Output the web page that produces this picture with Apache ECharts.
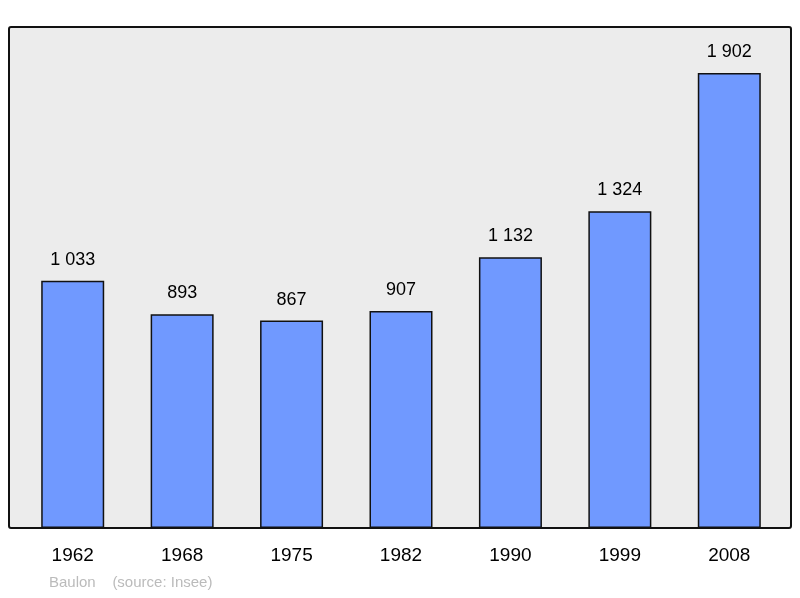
<!DOCTYPE html>
<html>
<head>
<meta charset="utf-8">
<script src="https://cdn.jsdelivr.net/npm/echarts@6/dist/echarts.min.js"></script>
<style>html,body{margin:0;padding:0;background:#fff}#chart{width:800px;height:598px}</style>
</head>
<body>
<div id="chart"></div>
<script>
// données population
const years = ['1962', '1968', '1975', '1982', '1990', '1999', '2008'];
const population = [1033, 893, 867, 907, 1132, 1324, 1902];

const chart = echarts.init(document.getElementById('chart'));

function fmt(v) {
  return String(v).replace(/\B(?=(\d{3})+(?!\d))/g, ' ');
}

chart.setOption({
  animation: false,
  graphic: [
    { type: 'rect', z: -10, shape: { x: 9, y: 27, width: 782, height: 501, r: 2 },
      style: { fill: '#ececec', stroke: '#111', lineWidth: 2 } },
    { type: 'text', left: 49, top: 575,
      style: { text: 'Baulon    (source: Insee)', fill: '#bbbbbb', fontSize: 15, fontFamily: 'Liberation Sans' } }
  ],
  grid: { left: 18, right: 16, top: 27, bottom: 70 },
  xAxis: {
    type: 'category',
    data: years,
    axisLine: { show: false },
    axisTick: { show: false },
    axisLabel: { fontSize: 19, color: '#000', margin: 18, fontFamily: 'Liberation Sans' }
  },
  yAxis: { type: 'value', min: 0, max: 2094, show: false },
  series: [{
    type: 'bar',
    data: population,
    barWidth: 63,
    itemStyle: { color: '#7099ff', borderColor: '#111', borderWidth: 1.5 },
    label: { show: true, position: 'top', distance: 12, fontSize: 18, color: '#000',
      fontFamily: 'Liberation Sans', formatter: p => fmt(p.value) }
  }]
});
</script>
</body>
</html>
